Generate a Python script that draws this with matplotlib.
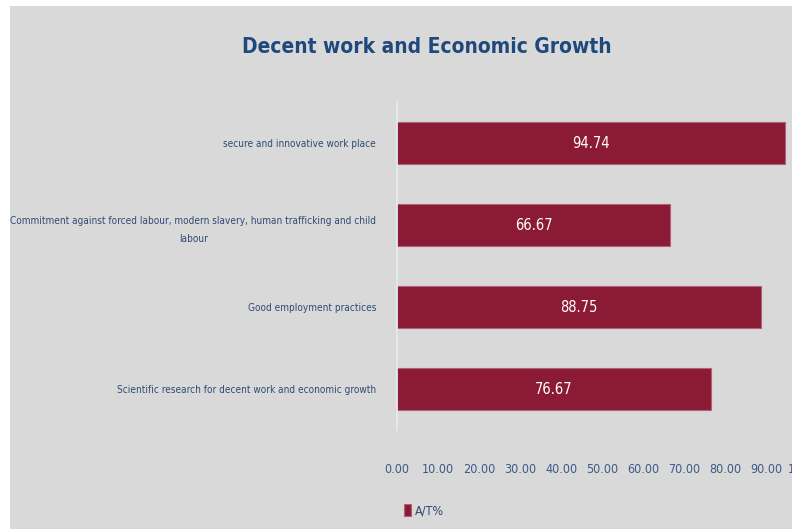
import matplotlib.pyplot as plt
from matplotlib.patches import Rectangle

categories = [
    "secure and innovative work place",
    "Commitment against forced labour, modern slavery, human trafficking and child\nlabour",
    "Good employment practices",
    "Scientific research for decent work and economic growth",
]
values = [94.74, 66.67, 88.75, 76.67]
ticks = [0, 10, 20, 30, 40, 50, 60, 70, 80, 90, 100]

plt.rcParams['font.family'] = ['Liberation Sans Narrow', 'DejaVu Sans']
plt.rcParams['font.stretch'] = 'condensed'

W, H = 792, 529
fig = plt.figure(figsize=(W / 100, H / 100), dpi=100, facecolor='white')

# grey chart area, cropped on the right like the source image
fig.patches.append(Rectangle((10 / W, 0), 1, 1 - 6 / H, transform=fig.transFigure,
                             facecolor='#d9d9d9', edgecolor='none', zorder=-10))

bar_col = '#8b1a35'
txt_col = '#2f4a74'

ax = fig.add_axes([397 / W, 1 - 430 / H, 410 / W, 328 / H])
ax.set_zorder(5)
ax.set_facecolor('none')
ypos = range(len(values))
bars = ax.barh(ypos, values, height=0.51, color=bar_col, edgecolor='#b06277', linewidth=0.8)
ax.set_ylim(-0.5, len(values) - 0.5)
ax.invert_yaxis()
ax.set_xlim(0, 100)

for b, v in zip(bars, values):
    ax.text(v / 2, b.get_y() + b.get_height() / 2, f"{v:.2f}", ha='center', va='center',
            color='white', fontsize=10.5)

ax.set_yticks(list(ypos))
ax.set_yticklabels(categories, fontsize=7.2, color=txt_col, multialignment='center',
                   linespacing=2.0)
ax.set_xticks(ticks)
ax.set_xticklabels([f"{t:.2f}" for t in ticks], fontsize=9, color='#3d5a85')
ax.tick_params(axis='both', length=0)
ax.tick_params(axis='y', pad=15)
ax.tick_params(axis='x', pad=24)
for s in ['top', 'right', 'bottom']:
    ax.spines[s].set_visible(False)
ax.spines['left'].set_color('#e6ecf5')
ax.spines['left'].set_linewidth(1.2)

fig.text(427 / W, 1 - 47 / H, "Decent work and Economic Growth", ha='center', va='center',
         fontsize=15, color='#1f497d', fontweight='bold')

leg = fig.legend([bars[0]], ["A/T%"], loc='center', bbox_to_anchor=(424 / W, 1 - 511 / H),
                 frameon=False, fontsize=9, handlelength=0.6, handleheight=1.1,
                 handletextpad=0.3, labelcolor=txt_col)

fig.savefig('out.png', dpi=100, facecolor='white')
